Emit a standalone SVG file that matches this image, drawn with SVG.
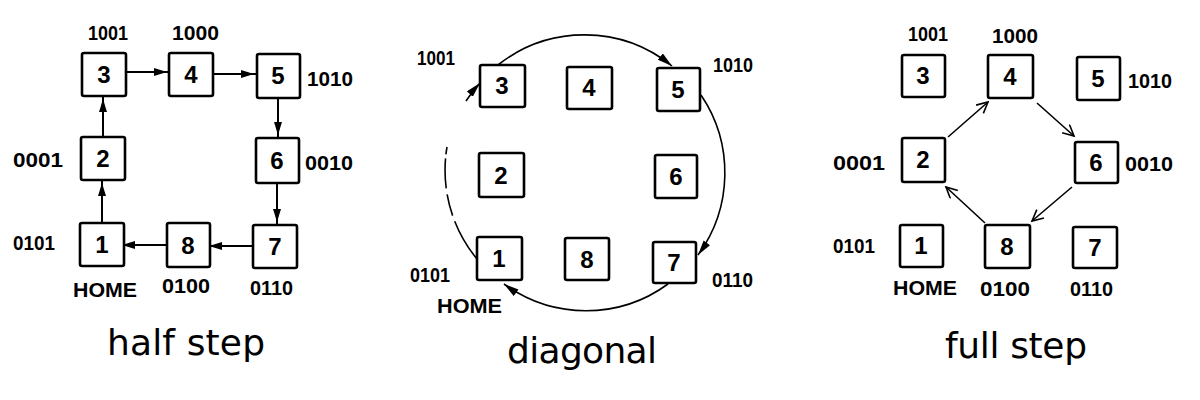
<svg xmlns="http://www.w3.org/2000/svg" width="1200" height="400" viewBox="0 0 1200 400">
<style>
.box{fill:#fff;stroke:#000;stroke-width:2.6}
.num{font-family:"Liberation Sans",Arial,sans-serif;font-weight:bold;font-size:24px;text-anchor:middle;fill:#000}
.lbl{font-family:"Liberation Sans",Arial,sans-serif;font-weight:bold;font-size:20px;fill:#000}
.cap{font-family:"DejaVu Sans",sans-serif;font-size:36px;fill:#000}
.c1{fill:none;stroke:#000;stroke-width:2}
.c2{fill:none;stroke:#000;stroke-width:1.6}
.c3{fill:none;stroke:#000;stroke-width:1.6}
</style>
<defs>
<marker id="mFill" markerUnits="userSpaceOnUse" markerWidth="20" markerHeight="10" refX="16" refY="4.5" orient="auto">
<path d="M0,0.5 L13,4.5 L0,8.5 z" fill="#000"/>
</marker>
<marker id="mDiag" markerUnits="userSpaceOnUse" markerWidth="18" markerHeight="10" refX="15" refY="4" orient="auto">
<path d="M0,0 L15,4 L0,8 z" fill="#000"/>
</marker>
<marker id="mOpen" markerUnits="userSpaceOnUse" markerWidth="14" markerHeight="14" refX="12" refY="6" orient="auto">
<path d="M1,0.5 L12,6 L1,11.5" fill="none" stroke="#000" stroke-width="1.6"/>
</marker>
</defs>

<!-- Connectors -->
<g id="connectors">
<g id="conn-half">
<line class="c1" x1="126" y1="72" x2="170" y2="72" marker-end="url(#mFill)"/>
<line class="c1" x1="213" y1="74" x2="257" y2="74" marker-end="url(#mFill)"/>
<line class="c1" x1="278" y1="98" x2="278" y2="138" marker-end="url(#mFill)"/>
<line class="c1" x1="277" y1="183" x2="277" y2="225" marker-end="url(#mFill)"/>
<line class="c1" x1="253" y1="246" x2="206" y2="246" marker-end="url(#mFill)"/>
<line class="c1" x1="167" y1="245" x2="119" y2="245" marker-end="url(#mFill)"/>
<line class="c1" x1="102" y1="223" x2="102" y2="180" marker-end="url(#mFill)"/>
<line class="c1" x1="103" y1="137" x2="103" y2="96" marker-end="url(#mFill)"/>
</g>
<g id="conn-diag">
<path class="c2" d="M498,65 A139,139 0 0 1 672,66" marker-end="url(#mDiag)"/>
<path class="c2" d="M701,95 A139,139 0 0 1 698,255" marker-end="url(#mDiag)"/>
<path class="c2" d="M668,284 A139,139 0 0 1 504,284" marker-end="url(#mDiag)"/>
<path class="c2" d="M477,259 A139,139 0 0 1 447,147" stroke-dasharray="44 6 22 6 30 4 40"/>
<path class="c2" d="M466,101 A139,139 0 0 1 480,83" marker-end="url(#mDiag)"/>
</g>
<g id="conn-full">
<line class="c3" x1="948" y1="137" x2="988" y2="102" marker-end="url(#mOpen)"/>
<line class="c3" x1="1037" y1="103" x2="1074" y2="136" marker-end="url(#mOpen)"/>
<line class="c3" x1="1072" y1="187" x2="1032" y2="221" marker-end="url(#mOpen)"/>
<line class="c3" x1="985" y1="223" x2="946" y2="187" marker-end="url(#mOpen)"/>
</g>
</g>

<!-- Panel 1: half step -->
<g id="half-3"><rect class="box" x="82" y="53" width="44" height="43" rx="2"/><text class="num" x="104" y="83">3</text><text class="lbl" x="88" y="40" textLength="40" lengthAdjust="spacingAndGlyphs">1001</text></g>
<g id="half-4"><rect class="box" x="169" y="53" width="44" height="43" rx="2"/><text class="num" x="191" y="83">4</text><text class="lbl" x="172" y="40" textLength="47" lengthAdjust="spacingAndGlyphs">1000</text></g>
<g id="half-5"><rect class="box" x="257" y="54" width="43" height="44" rx="2"/><text class="num" x="278" y="84">5</text><text class="lbl" x="307" y="86" textLength="46" lengthAdjust="spacingAndGlyphs">1010</text></g>
<g id="half-2"><rect class="box" x="81" y="137" width="44" height="43" rx="2"/><text class="num" x="103" y="167">2</text><text class="lbl" x="13" y="167" textLength="50" lengthAdjust="spacingAndGlyphs">0001</text></g>
<g id="half-6"><rect class="box" x="256" y="138" width="43" height="45" rx="2"/><text class="num" x="277" y="169">6</text><text class="lbl" x="305" y="170" textLength="48" lengthAdjust="spacingAndGlyphs">0010</text></g>
<g id="half-1"><rect class="box" x="80" y="223" width="44" height="43" rx="2"/><text class="num" x="102" y="253">1</text><text class="lbl" x="13" y="250" textLength="42" lengthAdjust="spacingAndGlyphs">0101</text><text class="lbl" x="73" y="297" textLength="64" lengthAdjust="spacingAndGlyphs">HOME</text></g>
<g id="half-8"><rect class="box" x="167" y="223" width="43" height="44" rx="2"/><text class="num" x="188" y="254">8</text><text class="lbl" x="162" y="293" textLength="48" lengthAdjust="spacingAndGlyphs">0100</text></g>
<g id="half-7"><rect class="box" x="253" y="225" width="44" height="43" rx="2"/><text class="num" x="275" y="255">7</text><text class="lbl" x="250" y="295" textLength="43" lengthAdjust="spacingAndGlyphs">0110</text></g>

<!-- Panel 2: diagonal -->
<g id="diag-3"><rect class="box" x="480" y="65" width="45" height="42" rx="2"/><text class="num" x="502" y="94">3</text><text class="lbl" x="417" y="65" textLength="38" lengthAdjust="spacingAndGlyphs">1001</text></g>
<g id="diag-4"><rect class="box" x="567" y="67" width="45" height="42" rx="2"/><text class="num" x="589" y="96">4</text></g>
<g id="diag-5"><rect class="box" x="657" y="68" width="43" height="43" rx="2"/><text class="num" x="678" y="98">5</text><text class="lbl" x="713" y="72" textLength="40" lengthAdjust="spacingAndGlyphs">1010</text></g>
<g id="diag-2"><rect class="box" x="479" y="153" width="45" height="44" rx="2"/><text class="num" x="501" y="184">2</text></g>
<g id="diag-6"><rect class="box" x="655" y="155" width="42" height="43" rx="2"/><text class="num" x="676" y="185">6</text></g>
<g id="diag-1"><rect class="box" x="477" y="237" width="45" height="43" rx="2"/><text class="num" x="499" y="267">1</text><text class="lbl" x="410" y="282" textLength="40" lengthAdjust="spacingAndGlyphs">0101</text><text class="lbl" x="437" y="313" textLength="65" lengthAdjust="spacingAndGlyphs">HOME</text></g>
<g id="diag-8"><rect class="box" x="565" y="238" width="44" height="42" rx="2"/><text class="num" x="587" y="268">8</text></g>
<g id="diag-7"><rect class="box" x="653" y="242" width="43" height="41" rx="2"/><text class="num" x="674" y="271">7</text><text class="lbl" x="712" y="287" textLength="41" lengthAdjust="spacingAndGlyphs">0110</text></g>

<!-- Panel 3: full step -->
<g id="full-3"><rect class="box" x="902" y="55" width="43" height="42" rx="2"/><text class="num" x="923" y="84">3</text><text class="lbl" x="908" y="41" textLength="40" lengthAdjust="spacingAndGlyphs">1001</text></g>
<g id="full-4"><rect class="box" x="988" y="55" width="45" height="43" rx="2"/><text class="num" x="1010" y="85">4</text><text class="lbl" x="992" y="43" textLength="46" lengthAdjust="spacingAndGlyphs">1000</text></g>
<g id="full-5"><rect class="box" x="1077" y="57" width="43" height="43" rx="2"/><text class="num" x="1098" y="87">5</text><text class="lbl" x="1128" y="88" textLength="44" lengthAdjust="spacingAndGlyphs">1010</text></g>
<g id="full-2"><rect class="box" x="902" y="138" width="43" height="44" rx="2"/><text class="num" x="923" y="168">2</text><text class="lbl" x="833" y="170" textLength="52" lengthAdjust="spacingAndGlyphs">0001</text></g>
<g id="full-6"><rect class="box" x="1075" y="142" width="43" height="41" rx="2"/><text class="num" x="1096" y="171">6</text><text class="lbl" x="1125" y="171" textLength="48" lengthAdjust="spacingAndGlyphs">0010</text></g>
<g id="full-1"><rect class="box" x="900" y="225" width="43" height="42" rx="2"/><text class="num" x="921" y="254">1</text><text class="lbl" x="833" y="253" textLength="42" lengthAdjust="spacingAndGlyphs">0101</text><text class="lbl" x="893" y="295" textLength="64" lengthAdjust="spacingAndGlyphs">HOME</text></g>
<g id="full-8"><rect class="box" x="985" y="225" width="45" height="43" rx="2"/><text class="num" x="1007" y="255">8</text><text class="lbl" x="980" y="296" textLength="50" lengthAdjust="spacingAndGlyphs">0100</text></g>
<g id="full-7"><rect class="box" x="1073" y="227" width="44" height="41" rx="2"/><text class="num" x="1095" y="256">7</text><text class="lbl" x="1070" y="296" textLength="43" lengthAdjust="spacingAndGlyphs">0110</text></g>

<!-- Captions -->
<text class="cap" x="107" y="355" textLength="158">half step</text>
<text class="cap" x="507" y="363" textLength="150">diagonal</text>
<text class="cap" x="945" y="358" textLength="142">full step</text>
</svg>
